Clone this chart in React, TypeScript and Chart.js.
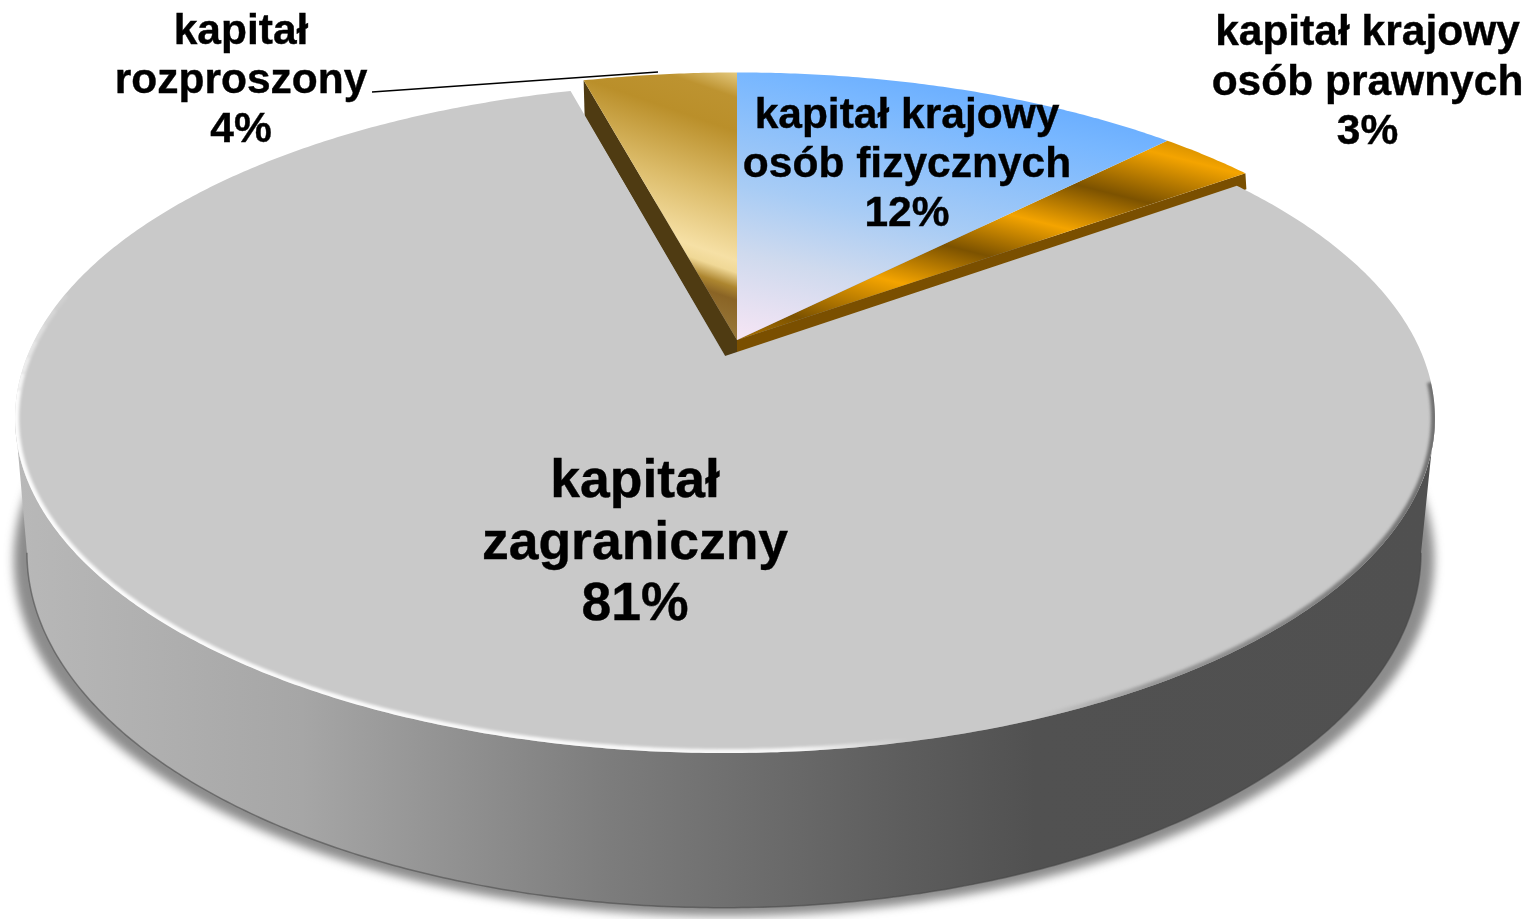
import React, { useEffect, useRef } from "react";
import { Chart, registerables } from "chart.js";

Chart.register(...registerables);

const categories = [
  "kapitał krajowy osób fizycznych",
  "kapitał krajowy osób prawnych",
  "kapitał zagraniczny",
  "kapitał rozproszony",
];
const shares = [12.4, 2.7, 80.7, 4.2];
const labelLines = [
  ["kapitał krajowy", "osób fizycznych"],
  ["kapitał krajowy", "osób prawnych"],
  ["kapitał", "zagraniczny"],
  ["kapitał", "rozproszony"],
];

const FONT = '"Liberation Sans", Arial, sans-serif';
const K = 0.185;
const TOP = { cx: 725, cy: 356, rx: 697.7, ry: 323.6 };
const BOTTOM = { cx: 724, cy: 487, rx: 685, ry: 342.9 };
const SHADOW = { cx: 724, cy: 494, rx: 698, ry: 344 };
const SLICE = { cx: 737, cy: 340, rx: 693, ry: 317 };

type Plane = { cx: number; cy: number; rx: number; ry: number };
type Pt = [number, number];

function proj(p: Plane, a: number): Pt {
  const u = Math.cos(a);
  const v = Math.sin(a);
  const w = 1 - K * v;
  return [p.cx + (p.rx * u) / w, p.cy + (p.ry * v) / w];
}
function arcPts(p: Plane, a0: number, a1: number): Pt[] {
  const n = Math.max(8, Math.ceil(Math.abs(a1 - a0) * 120));
  const out: Pt[] = [];
  for (let i = 0; i <= n; i++) out.push(proj(p, a0 + ((a1 - a0) * i) / n));
  return out;
}
function trace(ctx: CanvasRenderingContext2D, pts: Pt[], close = true) {
  ctx.beginPath();
  pts.forEach((q, i) => (i ? ctx.lineTo(q[0], q[1]) : ctx.moveTo(q[0], q[1])));
  if (close) ctx.closePath();
}
function grad(ctx: CanvasRenderingContext2D, x0: number, y0: number, x1: number, y1: number, stops: [number, string][]) {
  const g = ctx.createLinearGradient(x0, y0, x1, y1);
  stops.forEach(([t, c]) => g.addColorStop(t, c));
  return g;
}

const pie3d = {
  id: "pie3d",
  afterDatasetsDraw(chart: any) {
    const ctx: CanvasRenderingContext2D = chart.ctx;
    const arcs = chart.getDatasetMeta(0).data;
    const [blue, orange, gray, gold] = arcs;

    const frontStart = Math.asin(K);
    const frontEnd = Math.PI - frontStart;

    ctx.save();

    // soft shadow under the disc
    ctx.save();
    ctx.filter = "blur(5px)";
    ctx.fillStyle = "rgba(70,70,70,0.62)";
    trace(ctx, arcPts(SHADOW, 0, Math.PI * 2));
    ctx.fill();
    ctx.restore();

    // side wall
    const wallPts = [...arcPts(TOP, frontStart, frontEnd), ...arcPts(BOTTOM, frontEnd, frontStart)];
    trace(ctx, wallPts);
    ctx.fillStyle = grad(ctx, 20, 0, 1430, 0, [
      [0, "#b8b8b8"],
      [0.2, "#a6a6a6"],
      [0.42, "#7c7c7c"],
      [0.62, "#5e5e5e"],
      [0.72, "#515151"],
      [1, "#505050"],
    ]);
    ctx.fill();
    trace(ctx, arcPts(BOTTOM, frontStart, frontEnd), false);
    ctx.strokeStyle = "rgba(70,70,70,0.55)";
    ctx.lineWidth = 1.5;
    ctx.stroke();

    // walls of the pulled-out slices
    const wall = (a: number, depth: number, color: string) => {
      const e = proj(SLICE, a);
      trace(ctx, [[SLICE.cx, SLICE.cy], e, [e[0] + 1, e[1] + depth], [SLICE.cx, SLICE.cy + depth]]);
      ctx.fillStyle = color;
      ctx.fill();
    };
    wall(gold.startAngle, 36, "#4f3b12");
    wall(orange.endAngle, 16, "#7a4f00");

    // pulled-out slices
    const face = (el: any, fill: CanvasGradient) => {
      trace(ctx, [[SLICE.cx, SLICE.cy], ...arcPts(SLICE, el.startAngle, el.endAngle)]);
      ctx.fillStyle = fill;
      ctx.fill();
    };
    face(gold, grad(ctx, 760, 66, 665, 340, [
      [0.03, "#ecd48f"],
      [0.13, "#bd9330"],
      [0.24, "#ba8f2a"],
      [0.46, "#dcbc6a"],
      [0.66, "#f6e0a5"],
      [0.7, "#f0d896"],
      [0.75, "#ad8630"],
      [0.79, "#8a6425"],
      [0.95, "#9d7e40"],
    ]));
    face(orange, grad(ctx, 1240, 140, 1163.4, 447.6, [
      [0, "#b87c00"],
      [0.103, "#f4a400"],
      [0.262, "#7c5200"],
      [0.404, "#f4a400"],
      [0.547, "#7c5200"],
      [0.697, "#f4a400"],
      [0.88, "#7c5200"],
      [1, "#b07500"],
    ]));
    face(blue, grad(ctx, 737, 345, 800, 50, [
      [0, "#f9e6f5"],
      [0.3, "#cfdaee"],
      [0.52, "#a8ccf5"],
      [0.885, "#78b7ff"],
      [1, "#6aaeff"],
    ]));

    // big slice face
    const grayArc = arcPts(TOP, gray.startAngle, gray.endAngle);
    trace(ctx, [[TOP.cx, TOP.cy], ...grayArc]);
    ctx.fillStyle = "#c9c9c9";
    ctx.fill();

    // bevel along the front rim
    ctx.save();
    trace(ctx, [[TOP.cx, TOP.cy], ...grayArc]);
    ctx.clip();
    ctx.filter = "blur(1.5px)";
    ctx.strokeStyle = grad(ctx, 15, 0, 1435, 0, [
      [0, "rgba(255,255,255,0.95)"],
      [0.55, "rgba(255,255,255,0.85)"],
      [0.63, "rgba(255,255,255,0)"],
      [0.72, "rgba(120,120,120,0)"],
      [0.8, "rgba(120,120,120,0.6)"],
      [1, "rgba(90,90,90,0.8)"],
    ]);
    ctx.lineWidth = 8;
    ctx.lineCap = "butt";
    trace(ctx, arcPts(TOP, 0.08, Math.PI - 0.1), false);
    ctx.stroke();
    const tail = 6;
    for (let i = 0; i < tail; i++) {
      ctx.globalAlpha = 1 - (i + 1) / (tail + 1);
      trace(ctx, arcPts(TOP, Math.PI - 0.1 + i * 0.05, Math.PI - 0.1 + (i + 1) * 0.05), false);
      ctx.stroke();
    }
    ctx.restore();

    // leader line of the smallest label
    ctx.strokeStyle = "#000";
    ctx.lineWidth = 1.6;
    ctx.beginPath();
    ctx.moveTo(372, 92);
    ctx.lineTo(658, 72);
    ctx.stroke();

    // labels
    ctx.fillStyle = "#000";
    ctx.strokeStyle = "#000";
    ctx.lineWidth = 0.4;
    ctx.textAlign = "center";
    ctx.textBaseline = "alphabetic";
    const spots = [
      { x: 907, y: 127.5, size: 42.5, lead: 49 },
      { x: 1367.5, y: 45, size: 42.5, lead: 49.5 },
      { x: 635, y: 497, size: 53.5, lead: 61.5 },
      { x: 241, y: 43.5, size: 42.5, lead: 49.2 },
    ];
    spots.forEach((s, i) => {
      ctx.font = `bold ${s.size}px ${FONT}`;
      const lines = [...labelLines[i], `${Math.round(shares[i])}%`];
      lines.forEach((t, j) => {
        ctx.fillText(t, s.x, s.y + j * s.lead);
        ctx.strokeText(t, s.x, s.y + j * s.lead);
      });
    });
    ctx.restore();
  },
};

export default function App() {
  const ref = useRef<HTMLCanvasElement>(null);
  useEffect(() => {
    document.body.style.margin = "0";
    document.body.style.background = "#fff";
    const chart = new Chart(ref.current!, {
      type: "pie",
      data: {
        labels: categories,
        datasets: [
          {
            data: shares,
            backgroundColor: "rgba(0,0,0,0)",
            borderWidth: 0,
          },
        ],
      },
      options: {
        responsive: false,
        animation: false,
        rotation: 0,
        plugins: { legend: { display: false }, tooltip: { enabled: false } },
      },
      plugins: [pie3d],
    } as any);
    return () => chart.destroy();
  }, []);
  return <canvas ref={ref} width={1526} height={919} style={{ display: "block" }} />;
}
